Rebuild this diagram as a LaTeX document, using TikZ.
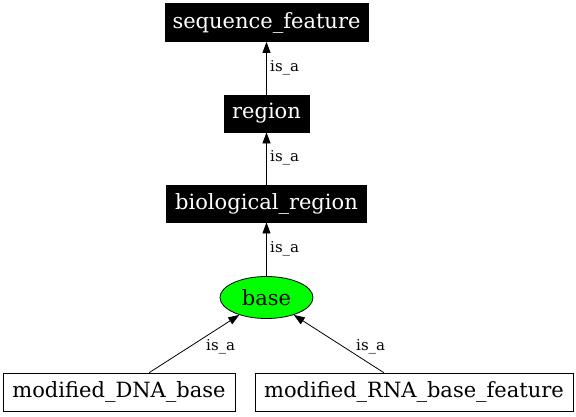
\documentclass[tikz,border=0pt]{standalone}
\usepackage{fontspec}
\setmainfont{DejaVu Serif}
\usetikzlibrary{arrows.meta,shapes.geometric}
\tikzset{
  termbox/.style={draw=black, fill=black, text=white, rectangle, inner sep=0pt, line width=0.8pt, font=\fontsize{21}{21}\selectfont},
  plainbox/.style={draw=black, fill=white, rectangle, inner sep=0pt, line width=0.8pt, font=\fontsize{21}{21}\selectfont},
  focus/.style={draw=black, fill={rgb,255:red,0;green,255;blue,0}, ellipse, inner sep=0pt, line width=0.8pt, font=\fontsize{21}{21}\selectfont},
  isa/.style={draw=black, line width=0.8pt, -{Triangle[length=11pt,width=8pt]}},
  lbl/.style={font=\fontsize{15}{15}\selectfont, inner sep=0pt, anchor=west},
}
\begin{document}
\begin{tikzpicture}[x=1pt,y=-1pt]
\useasboundingbox (0,0) rectangle (576,416);
\node[termbox, minimum width=203pt, minimum height=38pt] (sf) at (266.5,22.5) {sequence\_feature};
\node[termbox, minimum width=85pt, minimum height=37pt] (rg) at (266.5,113.5) {region};
\node[termbox, minimum width=200pt, minimum height=37pt] (br) at (266.5,203.5) {biological\_region};
\node[focus, minimum width=93pt, minimum height=42pt] (bs) at (266.5,297.5) {base};
\node[plainbox, minimum width=232pt, minimum height=38pt] (dna) at (119,392) {modified\_DNA\_base};
\node[plainbox, minimum width=318pt, minimum height=38pt] (rna) at (414,392) {modified\_RNA\_base\_feature};
\draw[isa] (rg) -- (sf);
\draw[isa] (br) -- (rg);
\draw[isa] (bs) -- (br);
\draw[isa] (dna) -- (bs);
\draw[isa] (rna) -- (bs);
\node[lbl] (l1) at (270,68) {is\_a};
\node[lbl] (l2) at (270,158) {is\_a};
\node[lbl] (l3) at (270,249) {is\_a};
\node[lbl] (l4) at (206,347) {is\_a};
\node[lbl] (l5) at (356,347) {is\_a};
\end{tikzpicture}
\end{document}
